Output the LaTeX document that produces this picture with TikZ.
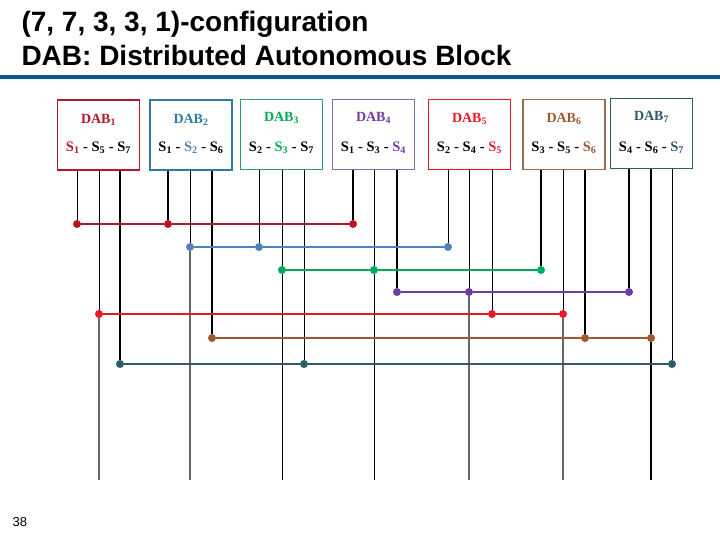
\documentclass[tikz,border=0pt]{standalone}
\usepackage{fontspec}
\setmainfont{Liberation Serif}
\setsansfont{Liberation Sans}
\usetikzlibrary{arrows.meta}
\definecolor{rulecol}{RGB}{12,88,150}
\definecolor{s1col}{RGB}{180,22,42}
\definecolor{s2col}{RGB}{79,129,189}
\definecolor{s3col}{RGB}{0,170,90}
\definecolor{s4col}{RGB}{112,60,160}
\definecolor{s5col}{RGB}{232,24,40}
\definecolor{s6col}{RGB}{160,88,48}
\definecolor{s7col}{RGB}{42,92,106}
\definecolor{f2col}{RGB}{45,125,160}
\definecolor{f3col}{RGB}{45,160,115}
\definecolor{f4col}{RGB}{130,110,160}
\definecolor{f6col}{RGB}{150,110,80}
\tikzset{
    dabbox/.style={draw=#1, line width=1.5pt, minimum width=82pt, minimum height=70pt, inner sep=0pt},
    dabname/.style={text=#1, font=\fontsize{14}{16}\selectfont\bfseries},
    dabsigs/.style={font=\fontsize{14.5}{16}\selectfont\bfseries},
    tapdot/.style={circle, fill=#1, inner sep=0pt, minimum size=8pt},
    thinwire/.style={-, line width=0.9pt},
    thickwire/.style={-, line width=2pt},
    tailwire/.style={-, line width=1.1pt, draw=black!60},
    bus/.style={-, draw=#1, line width=1.5pt}
}
\newcommand{\Sg}[1]{S\textsubscript{#1}}
\newcommand{\cSg}[2]{{\color{#1}\Sg{#2}}}

\begin{document}
\begin{tikzpicture}[x=1pt,y=-1pt]
    \useasboundingbox (0,0) rectangle (720,540);

    \node[anchor=base west, font=\sffamily\bfseries\fontsize{28}{30}\selectfont] (title) at (18,32) {(7, 7, 3, 3, 1)-configuration};
    \node[anchor=base west, font=\sffamily\bfseries\fontsize{28}{30}\selectfont] (subtitle) at (18,66) {DAB: Distributed Autonomous Block};
    \fill[rulecol] (0,75) rectangle (720,79);
    \node[anchor=base west, font=\sffamily\fontsize{13}{15}\selectfont] (page) at (9,526) {38};

    \node[dabbox=s1col] (b1) at (98.5,135) {};
    \node[dabname=s1col] (n1) at (98.5,120) {DAB\textsubscript{1}};
    \node[dabsigs] (g1) at (98.5,148) {\cSg{s1col}{1} - \Sg{5} - \Sg{7}};

    \node[dabbox=f2col] (b2) at (191,135) {};
    \node[dabname=f2col] (n2) at (191,120) {DAB\textsubscript{2}};
    \node[dabsigs] (g2) at (191,148) {\Sg{1} - \cSg{s2col}{2} - \Sg{6}};

    \node[dabbox=f3col] (b3) at (281.5,134.5) {};
    \node[dabname=s3col] (n3) at (281.5,118) {DAB\textsubscript{3}};
    \node[dabsigs] (g3) at (281.5,148) {\Sg{2} - \cSg{s3col}{3} - \Sg{7}};

    \node[dabbox=f4col] (b4) at (373.5,134.5) {};
    \node[dabname=s4col] (n4) at (373.5,118) {DAB\textsubscript{4}};
    \node[dabsigs] (g4) at (373.5,148) {\Sg{1} - \Sg{3} - \cSg{s4col}{4}};

    \node[dabbox=s5col] (b5) at (469.5,134.5) {};
    \node[dabname=s5col] (n5) at (469.5,119) {DAB\textsubscript{5}};
    \node[dabsigs] (g5) at (469.5,148) {\Sg{2} - \Sg{4} - \cSg{s5col}{5}};

    \node[dabbox=f6col] (b6) at (564,134.5) {};
    \node[dabname=s6col] (n6) at (564,119) {DAB\textsubscript{6}};
    \node[dabsigs] (g6) at (564,148) {\Sg{3} - \Sg{5} - \cSg{s6col}{6}};

    \node[dabbox=s7col] (b7) at (651.5,133.5) {};
    \node[dabname=s7col] (n7) at (651.5,117) {DAB\textsubscript{7}};
    \node[dabsigs] (g7) at (651.5,148) {\Sg{4} - \Sg{6} - \cSg{s7col}{7}};

    \node[tapdot=s1col] (s1a) at (77,224) {};
    \node[tapdot=s1col] (s1b) at (168,224) {};
    \node[tapdot=s1col] (s1c) at (353,224) {};
    \node[tapdot=s2col] (s2a) at (190,247) {};
    \node[tapdot=s2col] (s2b) at (259,247) {};
    \node[tapdot=s2col] (s2c) at (448,247) {};
    \node[tapdot=s3col] (s3a) at (282,270) {};
    \node[tapdot=s3col] (s3b) at (374,270) {};
    \node[tapdot=s3col] (s3c) at (541,270) {};
    \node[tapdot=s4col] (s4a) at (397,292) {};
    \node[tapdot=s4col] (s4b) at (469,292) {};
    \node[tapdot=s4col] (s4c) at (629,292) {};
    \node[tapdot=s5col] (s5a) at (99,314) {};
    \node[tapdot=s5col] (s5b) at (492,314) {};
    \node[tapdot=s5col] (s5c) at (563,314) {};
    \node[tapdot=s6col] (s6a) at (212,338) {};
    \node[tapdot=s6col] (s6b) at (585,338) {};
    \node[tapdot=s6col] (s6c) at (651,338) {};
    \node[tapdot=s7col] (s7a) at (120,364) {};
    \node[tapdot=s7col] (s7b) at (304,364) {};
    \node[tapdot=s7col] (s7c) at (672,364) {};

    \coordinate (e1) at (99,480);
    \coordinate (e2) at (190,480);
    \coordinate (e3) at (282,480);
    \coordinate (e4) at (374,480);
    \coordinate (e5) at (469,480);
    \coordinate (e6) at (563,480);
    \coordinate (e7) at (651,480);

    \path [thinwire](b1.south -| s1a) edge (s1a);
    \path [thinwire](b1.south -| s5a) edge (s5a);
    \path [thickwire](b1.south -| s7a) edge (s7a);
    \path [thickwire](b2.south -| s1b) edge (s1b);
    \path [thinwire](b2.south -| s2a) edge (s2a);
    \path [thickwire](b2.south -| s6a) edge (s6a);
    \path [thinwire](b3.south -| s2b) edge (s2b);
    \path [thinwire](b3.south -| s3a) edge (s3a);
    \path [thinwire](b3.south -| s7b) edge (s7b);
    \path [thickwire](b4.south -| s1c) edge (s1c);
    \path [thinwire](b4.south -| s3b) edge (s3b);
    \path [thickwire](b4.south -| s4a) edge (s4a);
    \path [thinwire](b5.south -| s2c) edge (s2c);
    \path [thinwire](b5.south -| s4b) edge (s4b);
    \path [thinwire](b5.south -| s5b) edge (s5b);
    \path [thickwire](b6.south -| s3c) edge (s3c);
    \path [thinwire](b6.south -| s5c) edge (s5c);
    \path [thickwire](b6.south -| s6b) edge (s6b);
    \path [thickwire](b7.south -| s4c) edge (s4c);
    \path [thickwire](b7.south -| s6c) edge (s6c);
    \path [thinwire](b7.south -| s7c) edge (s7c);

    \path [tailwire](s5a) edge (e1);
    \path [tailwire](s2a) edge (e2);
    \path [thinwire](s3a) edge (e3);
    \path [thinwire](s3b) edge (e4);
    \path [tailwire](s4b) edge (e5);
    \path [tailwire](s5c) edge (e6);
    \path [thickwire](s6c) edge (e7);

    \path [bus=s1col](s1a) edge (s1b) (s1b) edge (s1c);
    \path [bus=s2col, line width=1.2pt](s2a) edge (s2b) (s2b) edge (s2c);
    \path [bus=s3col, line width=2.5pt](s3a) edge (s3b) (s3b) edge (s3c);
    \path [bus=s4col, line width=1.2pt](s4a) edge (s4b) (s4b) edge (s4c);
    \path [bus=s5col, line width=1.8pt](s5a) edge (s5b) (s5b) edge (s5c);
    \path [bus=s6col](s6a) edge (s6b) (s6b) edge (s6c);
    \path [bus=s7col](s7a) edge (s7b) (s7b) edge (s7c);
\end{tikzpicture}
\end{document}
